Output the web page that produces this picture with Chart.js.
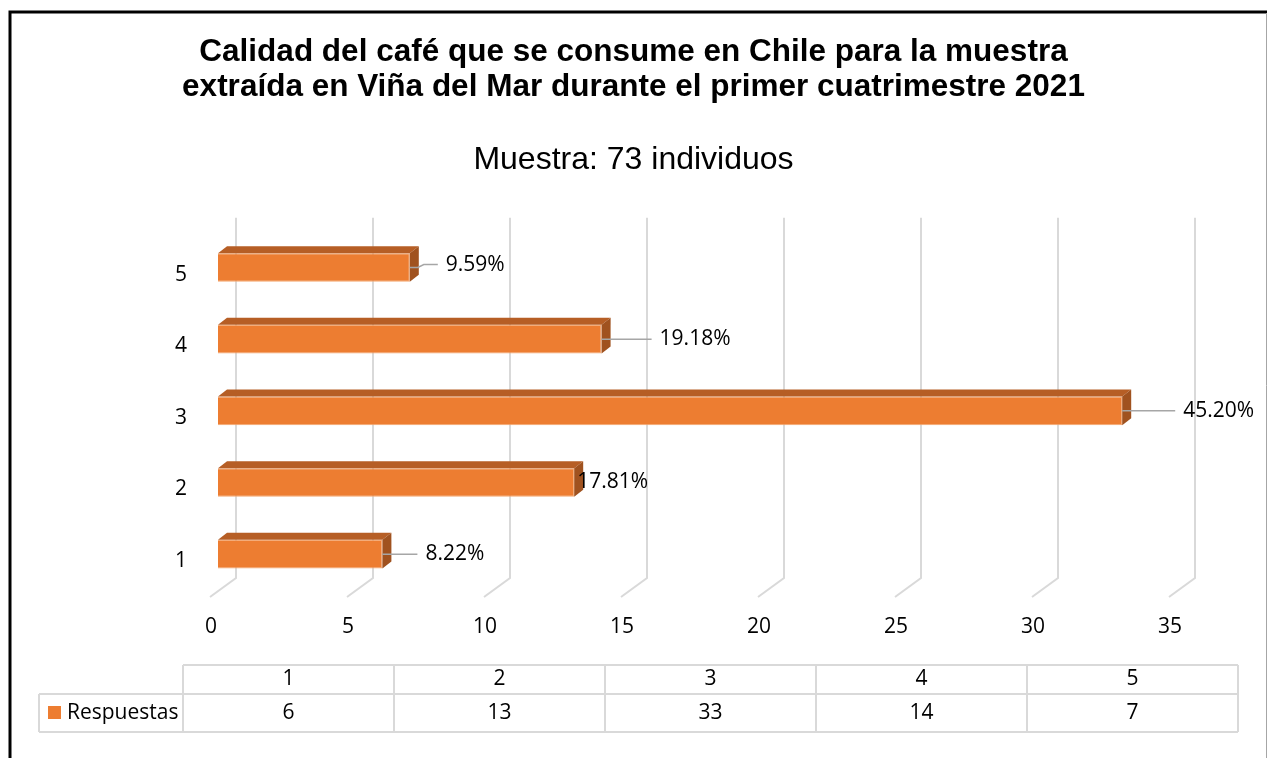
<!DOCTYPE html>
<html>
<head>
<meta charset="utf-8">
<title>Calidad del café</title>
<script src="https://cdn.jsdelivr.net/npm/chart.js@4.4.1/dist/chart.umd.min.js"></script>
<style>
  body { margin: 0; background: #fff; }
  canvas { display: block; }
</style>
</head>
<body>
<canvas id="calidadChart" width="1267" height="758"></canvas>
<script>
// Datos de la encuesta
const categorias = ['1', '2', '3', '4', '5'];
const respuestas = [6, 13, 33, 14, 7];
const porcentajes = ['8.22%', '17.81%', '45.20%', '19.18%', '9.59%'];
const ticksX = [0, 5, 10, 15, 20, 25, 30, 35];
const nombreSerie = 'Respuestas';
const titulo = [
    'Calidad del café que se consume en Chile para la muestra',
    'extraída en Viña del Mar durante el primer cuatrimestre 2021'
];
const subtitulo = 'Muestra: 73 individuos';

// largo de la línea guía de cada etiqueta (0 = pegada a la barra)
const guias = [35, 0, 53, 50, 28];

const naranjo = '#ED7D31';
const naranjoTapa = '#B65E25';
const naranjoLado = '#A0521F';
const gris = '#D9D9D9';
const fuente = '"Open Sans", "Noto Sans", sans-serif';
const fuenteTitulo = '"Liberation Sans", Arial, sans-serif';

// profundidad de las barras
const profX = 9, profY = 7;

// cuadro del gráfico
const marco = {
    id: 'marco',
    beforeDraw(chart) {
        const ctx = chart.ctx;
        ctx.save();
        ctx.fillStyle = '#fff';
        ctx.fillRect(0, 0, chart.width, chart.height);
        ctx.strokeStyle = '#000';
        ctx.lineWidth = 3;
        ctx.beginPath();
        ctx.moveTo(10, chart.height);
        ctx.lineTo(10, 12);
        ctx.lineTo(chart.width, 12);
        ctx.stroke();
        ctx.strokeStyle = '#A6A6A6';
        ctx.lineWidth = 1;
        ctx.beginPath();
        ctx.moveTo(1266.5, 13);
        ctx.lineTo(1266.5, chart.height);
        ctx.stroke();
        ctx.restore();
    }
};

// pared del fondo y piso con las líneas de división
const paredFondo = {
    id: 'paredFondo',
    beforeDatasetsDraw(chart) {
        const { ctx, chartArea } = chart;
        const x = chart.scales.x;
        ctx.save();
        ctx.strokeStyle = gris;
        ctx.lineWidth = 2;
        ticksX.forEach(v => {
            const px = x.getPixelForValue(v) + 18;
            ctx.beginPath();
            ctx.moveTo(px, chartArea.top - 14);
            ctx.lineTo(px, chartArea.bottom - 12);
            ctx.lineTo(px - 26, chartArea.bottom + 7);
            ctx.stroke();
        });
        ctx.restore();
    }
};

// tapa y costado de cada barra
const caras3d = {
    id: 'caras3d',
    afterDatasetsDraw(chart) {
        const ctx = chart.ctx;
        ctx.save();
        chart.getDatasetMeta(0).data.forEach(bar => {
            const { x, y, base, height } = bar.getProps(['x', 'y', 'base', 'height'], true);
            const arriba = y - height / 2;
            const abajo = y + height / 2;
            ctx.fillStyle = naranjoTapa;
            ctx.beginPath();
            ctx.moveTo(base, arriba);
            ctx.lineTo(base + profX, arriba - profY);
            ctx.lineTo(x + profX, arriba - profY);
            ctx.lineTo(x, arriba);
            ctx.closePath();
            ctx.fill();
            ctx.fillStyle = naranjoLado;
            ctx.beginPath();
            ctx.moveTo(x, arriba);
            ctx.lineTo(x + profX, arriba - profY);
            ctx.lineTo(x + profX, abajo - profY);
            ctx.lineTo(x, abajo);
            ctx.closePath();
            ctx.fill();
        });
        ctx.restore();
    }
};

// porcentajes al final de cada barra
const etiquetas = {
    id: 'etiquetas',
    afterDatasetsDraw(chart) {
        const ctx = chart.ctx;
        ctx.save();
        ctx.font = '21px ' + fuente;
        ctx.textBaseline = 'middle';
        ctx.textAlign = 'left';
        chart.getDatasetMeta(0).data.forEach((bar, i) => {
            const { x, y } = bar.getProps(['x', 'y'], true);
            const largo = guias[i];
            let tx = x + 3;
            let ty = y;
            if (largo > 0) {
                ctx.strokeStyle = '#A6A6A6';
                ctx.lineWidth = 1.5;
                ctx.beginPath();
                ctx.moveTo(x, y);
                if (largo < 30) {
                    // guía corta con quiebre hacia arriba
                    ctx.lineTo(x + 8, y);
                    ctx.lineTo(x + 14, y - 3);
                    ty = y - 3;
                }
                ctx.lineTo(x + largo, ty);
                ctx.stroke();
                tx = x + largo + 8;
            }
            ctx.fillStyle = '#000';
            ctx.fillText(porcentajes[i], tx, ty);
        });
        ctx.restore();
    }
};

// tabla de datos bajo el eje
const tablaDatos = {
    id: 'tablaDatos',
    afterDraw(chart) {
        const ctx = chart.ctx;
        const izq = 183, ancho = 211, filaSup = 665, filaMed = 694, filaInf = 732, leyIzq = 39;
        const der = izq + ancho * categorias.length;
        ctx.save();
        ctx.strokeStyle = gris;
        ctx.lineWidth = 2;
        ctx.beginPath();
        ctx.moveTo(izq, filaSup); ctx.lineTo(der, filaSup);
        ctx.moveTo(leyIzq, filaMed); ctx.lineTo(der, filaMed);
        ctx.moveTo(leyIzq, filaInf); ctx.lineTo(der, filaInf);
        ctx.moveTo(leyIzq, filaMed); ctx.lineTo(leyIzq, filaInf);
        for (let c = 0; c <= categorias.length; c++) {
            ctx.moveTo(izq + c * ancho, filaSup);
            ctx.lineTo(izq + c * ancho, filaInf);
        }
        ctx.stroke();

        ctx.font = '21px ' + fuente;
        ctx.fillStyle = '#000';
        ctx.textAlign = 'center';
        ctx.textBaseline = 'middle';
        categorias.forEach((cat, c) => {
            const cx = izq + c * ancho + ancho / 2;
            ctx.fillText(cat, cx, (filaSup + filaMed) / 2);
            ctx.fillText(String(respuestas[c]), cx, (filaMed + filaInf) / 2);
        });

        ctx.fillStyle = naranjo;
        ctx.fillRect(48, 706, 13, 13);
        ctx.fillStyle = '#000';
        ctx.textAlign = 'left';
        ctx.fillText(nombreSerie, 67, (filaMed + filaInf) / 2);
        ctx.restore();
    }
};

new Chart(document.getElementById('calidadChart'), {
    type: 'bar',
    data: {
        labels: categorias,
        datasets: [{
            label: nombreSerie,
            data: respuestas,
            backgroundColor: naranjo,
            borderColor: '#F4A66F',
            borderWidth: 1,
            barPercentage: 0.4,
            categoryPercentage: 1
        }]
    },
    options: {
        indexAxis: 'y',
        responsive: false,
        animation: false,
        layout: {
            padding: { top: 35, left: 90, right: 90, bottom: 0 }
        },
        scales: {
            x: {
                min: ticksX[0],
                max: ticksX[ticksX.length - 1],
                afterBuildTicks: axis => {
                    axis.ticks = ticksX.map(v => ({ value: v }));
                },
                afterFit: axis => { axis.height = 168; },
                grid: { display: false, drawTicks: false },
                border: { display: false },
                ticks: {
                    padding: 24,
                    labelOffset: -7,
                    color: '#000',
                    font: { family: fuente, size: 21 }
                }
            },
            y: {
                reverse: true,
                afterFit: axis => { axis.width = 128; },
                grid: { display: false, drawTicks: false },
                border: { display: false },
                ticks: {
                    padding: 31,
                    labelOffset: 7,
                    color: '#000',
                    font: { family: fuente, size: 21 }
                }
            }
        },
        plugins: {
            legend: { display: false },
            tooltip: { enabled: false },
            title: {
                display: true,
                text: titulo,
                color: '#000',
                font: { family: fuenteTitulo, size: 31.5, weight: 'bold', lineHeight: 1.1 },
                padding: { top: 0, bottom: 37 }
            },
            subtitle: {
                display: true,
                text: subtitulo,
                color: '#000',
                font: { family: fuenteTitulo, size: 32, lineHeight: 1.2 },
                padding: { top: 0, bottom: 52 }
            }
        }
    },
    plugins: [marco, paredFondo, caras3d, etiquetas, tablaDatos]
});
</script>
</body>
</html>
